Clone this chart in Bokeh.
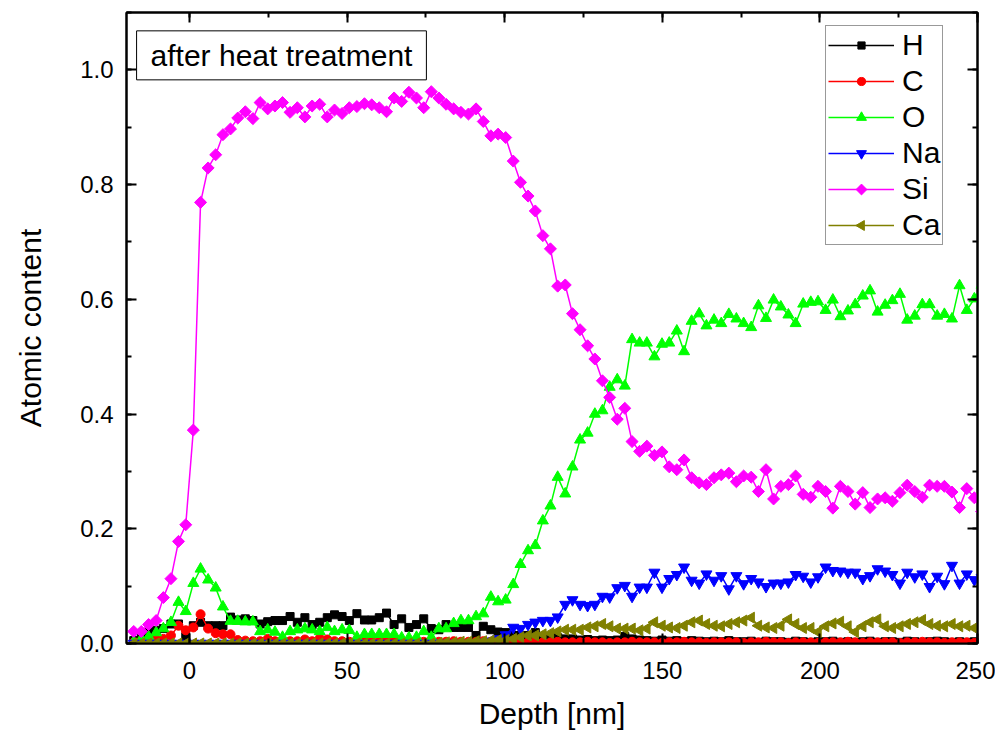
import math
from bokeh.plotting import figure
from bokeh.models import (LinearAxis, SingleIntervalTicker, NumeralTickFormatter,
                          Range1d, Legend, LegendItem, Label)
from bokeh.embed import file_html
from bokeh.resources import INLINE

depth = [-17.7, -15.3, -13.0, -10.6, -8.3, -5.9, -3.5, -1.2, 1.2, 3.5,
         5.9, 8.3, 10.6, 13.0, 15.3, 17.7, 20.1, 22.4, 24.8, 27.1,
         29.5, 31.9, 34.2, 36.6, 38.9, 41.3, 43.7, 46.0, 48.4, 50.7,
         53.1, 55.5, 57.8, 60.2, 62.5, 64.9, 67.3, 69.6, 72.0, 74.3,
         76.7, 79.1, 81.4, 83.8, 86.1, 88.5, 90.9, 93.2, 95.6, 97.9,
         100.3, 102.7, 105.0, 107.4, 109.7, 112.1, 114.5, 116.8, 119.2, 121.5,
         123.9, 126.3, 128.6, 131.0, 133.3, 135.7, 138.1, 140.4, 142.8, 145.1,
         147.5, 149.9, 152.2, 154.6, 156.9, 159.3, 161.7, 164.0, 166.4, 168.7,
         171.1, 173.5, 175.8, 178.2, 180.5, 182.9, 185.3, 187.6, 190.0, 192.3,
         194.7, 197.1, 199.4, 201.8, 204.1, 206.5, 208.9, 211.2, 213.6, 215.9,
         218.3, 220.7, 223.0, 225.4, 227.7, 230.1, 232.5, 234.8, 237.2, 239.5,
         241.9, 244.3, 246.6, 249.0, 251.3]

h_vals = [0.005, 0.014, 0.020, 0.023, 0.026, 0.034, 0.034, 0.012, 0.031, 0.037,
          0.031, 0.031, 0.031, 0.046, 0.041, 0.043, 0.040, 0.034, 0.038, 0.040,
          0.040, 0.047, 0.037, 0.045, 0.033, 0.037, 0.045, 0.050, 0.047, 0.040,
          0.052, 0.041, 0.041, 0.045, 0.053, 0.033, 0.043, 0.028, 0.033, 0.043,
          0.026, 0.024, 0.033, 0.028, 0.028, 0.028, 0.014, 0.030, 0.024, 0.020,
          0.019, 0.014, 0.014, 0.014, 0.019, 0.011, 0.010, 0.010, 0.008, 0.008,
          0.006, 0.007, 0.005, 0.006, 0.005, 0.006, 0.012, 0.008, 0.006, 0.005,
          0.004, 0.006, 0.004, 0.005, 0.003, 0.005, 0.004, 0.003, 0.004, 0.003,
          0.005, 0.003, 0.003, 0.004, 0.002, 0.004, 0.003, 0.003, 0.002, 0.004,
          0.003, 0.002, 0.003, 0.003, 0.004, 0.002, 0.003, 0.002, 0.003, 0.004,
          0.002, 0.003, 0.003, 0.002, 0.004, 0.003, 0.002, 0.003, 0.004, 0.003,
          0.002, 0.003, 0.002, 0.003, 0.002]

c_vals = [0.002, 0.005, 0.006, 0.007, 0.008, 0.014, 0.031, 0.023, 0.028, 0.051,
          0.026, 0.018, 0.016, 0.016, 0.006, 0.005, 0.004, 0.004, 0.008, 0.004,
          0.003, 0.004, 0.004, 0.007, 0.004, 0.009, 0.007, 0.004, 0.004, 0.003,
          0.004, 0.003, 0.004, 0.003, 0.005, 0.003, 0.003, 0.004, 0.003, 0.003,
          0.004, 0.003, 0.003, 0.004, 0.003, 0.003, 0.003, 0.004, 0.003, 0.003,
          0.003, 0.002, 0.003, 0.002, 0.003, 0.002, 0.002, 0.003, 0.002, 0.002,
          0.002, 0.003, 0.002, 0.002, 0.001, 0.002, 0.002, 0.003, 0.002, 0.002,
          0.002, 0.001, 0.002, 0.002, 0.003, 0.002, 0.002, 0.001, 0.002, 0.002,
          0.002, 0.002, 0.001, 0.002, 0.002, 0.003, 0.002, 0.002, 0.001, 0.002,
          0.002, 0.002, 0.001, 0.002, 0.002, 0.002, 0.003, 0.002, 0.001, 0.002,
          0.002, 0.002, 0.002, 0.001, 0.002, 0.002, 0.003, 0.002, 0.002, 0.001,
          0.002, 0.002, 0.002, 0.001, 0.002]

o_vals = [0.003, 0.008, 0.012, 0.019, 0.026, 0.037, 0.072, 0.056, 0.105, 0.130,
          0.111, 0.097, 0.064, 0.039, 0.039, 0.038, 0.038, 0.021, 0.024, 0.020,
          0.011, 0.021, 0.024, 0.026, 0.024, 0.021, 0.028, 0.021, 0.024, 0.023,
          0.011, 0.016, 0.016, 0.016, 0.016, 0.016, 0.010, 0.010, 0.011, 0.021,
          0.011, 0.026, 0.026, 0.035, 0.040, 0.040, 0.047, 0.052, 0.081, 0.073,
          0.076, 0.103, 0.138, 0.162, 0.171, 0.214, 0.240, 0.290, 0.261, 0.308,
          0.355, 0.367, 0.400, 0.406, 0.447, 0.460, 0.449, 0.530, 0.524, 0.524,
          0.500, 0.522, 0.524, 0.545, 0.509, 0.562, 0.575, 0.554, 0.564, 0.558,
          0.574, 0.566, 0.558, 0.551, 0.589, 0.567, 0.599, 0.587, 0.573, 0.558,
          0.592, 0.595, 0.596, 0.581, 0.599, 0.570, 0.580, 0.591, 0.606, 0.615,
          0.578, 0.590, 0.598, 0.609, 0.564, 0.571, 0.591, 0.591, 0.571, 0.574,
          0.566, 0.624, 0.581, 0.601, 0.625]

na_vals = [0.0, 0.0, 0.0, 0.0, 0.0, 0.0, 0.0, 0.0, 0.0, 0.0,
           0.0, 0.0, 0.0, 0.0, 0.0, 0.0, 0.0, 0.0, 0.0, 0.0,
           0.0, 0.0, 0.0, 0.0, 0.0, 0.0, 0.0, 0.0, 0.0, 0.0,
           0.0, 0.0, 0.0, 0.0, 0.0, 0.0, 0.0, 0.0, 0.0, 0.0,
           0.0, 0.0, 0.0, 0.0, 0.0, 0.0, 0.0, 0.002, 0.004, 0.008,
           0.015, 0.028, 0.026, 0.033, 0.037, 0.040, 0.040, 0.046, 0.068, 0.076,
           0.068, 0.066, 0.068, 0.082, 0.081, 0.097, 0.101, 0.082, 0.098, 0.098,
           0.124, 0.098, 0.113, 0.120, 0.133, 0.110, 0.105, 0.121, 0.110, 0.118,
           0.095, 0.118, 0.104, 0.113, 0.107, 0.099, 0.105, 0.105, 0.107, 0.120,
           0.117, 0.107, 0.116, 0.133, 0.127, 0.126, 0.124, 0.124, 0.113, 0.118,
           0.130, 0.126, 0.120, 0.105, 0.124, 0.116, 0.121, 0.099, 0.117, 0.104,
           0.136, 0.105, 0.121, 0.111, 0.115]

si_vals = [0.021, 0.021, 0.033, 0.040, 0.080, 0.113, 0.178, 0.207, 0.372, 0.769,
           0.829, 0.852, 0.887, 0.897, 0.916, 0.927, 0.915, 0.943, 0.932, 0.937,
           0.943, 0.926, 0.934, 0.918, 0.937, 0.940, 0.918, 0.930, 0.924, 0.934,
           0.936, 0.941, 0.939, 0.934, 0.927, 0.951, 0.945, 0.961, 0.951, 0.934,
           0.962, 0.951, 0.940, 0.932, 0.926, 0.923, 0.932, 0.910, 0.885, 0.888,
           0.882, 0.841, 0.804, 0.780, 0.754, 0.711, 0.688, 0.623, 0.625, 0.575,
           0.547, 0.519, 0.496, 0.458, 0.429, 0.391, 0.410, 0.352, 0.335, 0.344,
           0.328, 0.334, 0.308, 0.303, 0.320, 0.289, 0.280, 0.277, 0.289, 0.294,
           0.297, 0.282, 0.292, 0.290, 0.265, 0.303, 0.252, 0.274, 0.277, 0.292,
           0.260, 0.255, 0.274, 0.265, 0.236, 0.274, 0.265, 0.243, 0.263, 0.237,
           0.252, 0.254, 0.248, 0.263, 0.276, 0.265, 0.255, 0.276, 0.274, 0.274,
           0.264, 0.237, 0.270, 0.254, 0.230]

ca_vals = [0.0, 0.0, 0.0, 0.0, 0.0, 0.0, 0.0, 0.0, 0.0, 0.0,
           0.0, 0.0, 0.0, 0.0, 0.0, 0.0, 0.0, 0.0, 0.0, 0.0,
           0.0, 0.0, 0.0, 0.0, 0.0, 0.0, 0.0, 0.0, 0.0, 0.0,
           0.0, 0.0, 0.0, 0.0, 0.0, 0.0, 0.0, 0.0, 0.0, 0.0,
           0.0, 0.001, 0.002, 0.002, 0.003, 0.003, 0.004, 0.004, 0.005, 0.006,
           0.006, 0.008, 0.011, 0.014, 0.014, 0.016, 0.018, 0.021, 0.024, 0.024,
           0.024, 0.028, 0.030, 0.034, 0.030, 0.026, 0.026, 0.026, 0.023, 0.026,
           0.037, 0.031, 0.028, 0.027, 0.031, 0.037, 0.040, 0.034, 0.031, 0.030,
           0.034, 0.037, 0.040, 0.045, 0.031, 0.028, 0.027, 0.031, 0.042, 0.034,
           0.027, 0.027, 0.020, 0.030, 0.035, 0.038, 0.030, 0.020, 0.030, 0.037,
           0.042, 0.030, 0.027, 0.030, 0.034, 0.037, 0.041, 0.034, 0.031, 0.030,
           0.034, 0.030, 0.031, 0.027, 0.030]

labels = ["H", "C", "O", "Na", "Si", "Ca"]
colors = ["#000000", "#FF0000", "#00FF00", "#0000FF", "#FF00FF", "#808000"]

FONT = "Liberation Sans"

# layout (pixels)
W, H = 995, 736
BL, BR, BT, BB = 126, 18, 12, 93
FW, FH = W - BL - BR, H - BT - BB

p = figure(width=W, height=H, output_backend="svg", toolbar_location=None,
           x_range=Range1d(-20, 250), y_range=Range1d(0, 1.1),
           min_border_left=BL, min_border_right=BR, min_border_top=BT,
           min_border_bottom=BB, background_fill_color="white",
           border_fill_color="white")
p.grid.visible = False
p.outline_line_color = "black"
p.outline_line_width = 2
# pixel coordinate system of the frame (used only for legend keys)
p.extra_x_ranges = {"px": Range1d(0, FW)}
p.extra_y_ranges = {"px": Range1d(0, FH)}


def style_axis(ax):
    ax.axis_line_width = 2
    ax.axis_line_color = "black"
    ax.major_tick_in = 10
    ax.major_tick_out = 0
    ax.minor_tick_in = 5
    ax.minor_tick_out = 0
    ax.major_tick_line_width = 2
    ax.minor_tick_line_width = 2
    ax.major_tick_line_color = "black"
    ax.minor_tick_line_color = "black"
    ax.major_label_text_font = FONT
    ax.major_label_text_font_size = "24px"
    ax.major_label_text_color = "black"
    ax.axis_label_text_font = FONT
    ax.axis_label_text_font_size = "30px"
    ax.axis_label_text_font_style = "normal"
    ax.axis_label_text_color = "black"


xax = p.xaxis[0]
xax.ticker = SingleIntervalTicker(interval=50, num_minor_ticks=2)
style_axis(xax)
xax.axis_label = "Depth [nm]"
xax.major_label_standoff = 18
xax.axis_label_standoff = 15

yax = p.yaxis[0]
yax.ticker = SingleIntervalTicker(interval=0.2, num_minor_ticks=2)
yax.formatter = NumeralTickFormatter(format="0.0")
style_axis(yax)
yax.axis_label = "Atomic content"
yax.major_label_standoff = 13
yax.axis_label_standoff = 30

top = LinearAxis(ticker=SingleIntervalTicker(interval=50, num_minor_ticks=2))
style_axis(top)
top.major_label_text_font_size = "1px"
top.major_label_text_color = None
top.major_label_text_alpha = 0
top.major_label_standoff = 0
p.add_layout(top, "above")

right = LinearAxis(ticker=SingleIntervalTicker(interval=0.2, num_minor_ticks=2))
style_axis(right)
right.major_label_text_font_size = "1px"
right.major_label_text_color = None
right.major_label_text_alpha = 0
right.major_label_standoff = 0
p.add_layout(right, "right")

series = [h_vals, c_vals, o_vals, na_vals, si_vals, ca_vals]
markers = [("square", 0.0, 8), ("circle", 0.0, 9), ("triangle", 0.0, 11),
           ("inverted_triangle", 0.0, 11), ("square", math.pi / 4, 8.5),
           ("triangle", math.pi / 2, 11)]

items = []
for lab, col, ys, (mk, ang, sz) in zip(labels, colors, series, markers):
    r1 = p.line(depth, ys, line_color=col, line_width=1.5)
    p.scatter(depth, ys, marker=mk, angle=ang, size=sz,
              fill_color=col, line_color=col)
    items.append(LegendItem(label=lab, renderers=[r1]))

# legend box: left/bottom offsets from the frame's bottom-left corner
LEG_X, LEG_Y = 699, 398
PAD, ROW, GAP, GW = 2, 34, 2, 66
legend = Legend(items=items, location=(LEG_X, LEG_Y))
legend.label_text_font = FONT
legend.label_text_font_size = "30px"
legend.label_text_color = "black"
legend.glyph_width = GW
legend.glyph_height = ROW
legend.label_height = ROW
legend.label_standoff = 8
legend.spacing = GAP
legend.padding = PAD
legend.margin = 0
legend.border_line_color = "#333333"
legend.border_line_width = 1
legend.background_fill_alpha = 0.0
p.add_layout(legend, "center")

# legend key markers (Bokeh legends ignore marker angle), drawn under the
# transparent legend at the centres of its glyph cells
n = len(labels)
leg_h = 2 + 2 * PAD + n * ROW + (n - 1) * GAP
key_x = [LEG_X + 1 + PAD + GW / 2] * n
key_y = [LEG_Y + leg_h - 1 - PAD - ROW / 2 - k * (ROW + GAP) for k in range(n)]
for k, (col, (mk, ang, sz)) in enumerate(zip(colors, markers)):
    p.scatter([key_x[k]], [key_y[k]], marker=mk, angle=ang, size=sz * 0.9,
              fill_color=col, line_color=col,
              x_range_name="px", y_range_name="px")

note = Label(x=-16.8, y=1.068, text="after heat treatment",
             text_font=FONT, text_font_size="30px", text_color="black",
             text_align="left", text_baseline="top",
             border_line_color="black", border_line_width=1,
             background_fill_color="white", padding=(14, 8))
p.add_layout(note)

open("out.html", "w").write(file_html(p, INLINE))
